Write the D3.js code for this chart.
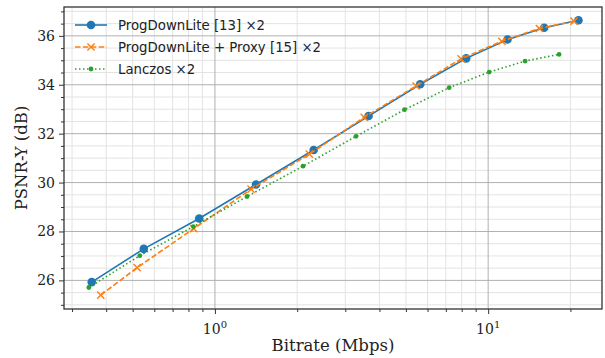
<!DOCTYPE html>
<html>
<head>
<meta charset="utf-8">
<script src="https://cdn.jsdelivr.net/npm/d3@7"></script>
<style>
  body { margin: 0; background: #fff; }
  text { fill: #222; }
</style>
</head>
<body>
<svg id="chart" width="605" height="358"></svg>
<script>
// values
const seriesLabels = ["ProgDownLite [13] \u00d72", "ProgDownLite + Proxy [15] \u00d72", "Lanczos \u00d72"];

const progDownRate = [0.354, 0.549, 0.876, 1.414, 2.298, 3.65, 5.64, 8.31, 11.77, 16.03, 21.4];
const progDownPsnr = [25.93, 27.29, 28.53, 29.92, 31.33, 32.72, 34.02, 35.08, 35.85, 36.33, 36.64];

const proxyRate = [0.382, 0.519, 0.837, 1.356, 2.216, 3.52, 5.45, 7.96, 11.22, 15.40, 20.63];
const proxyPsnr = [25.40, 26.52, 28.12, 29.73, 31.16, 32.67, 33.95, 35.06, 35.78, 36.30, 36.60];

const lanczosRate = [0.3456, 0.531, 0.833, 1.311, 2.101, 3.283, 4.94, 7.20, 10.09, 13.65, 18.18];
const lanczosPsnr = [25.71, 27.01, 28.20, 29.43, 30.67, 31.89, 32.98, 33.88, 34.52, 34.97, 35.24];

const yTicks = [26, 28, 30, 32, 34, 36];
const xTicks = [1, 10];

const margin = { top: 7, right: 3, bottom: 49, left: 64 };
const W = 605, H = 358;
const w = W - margin.left - margin.right;
const h = H - margin.top - margin.bottom;

const svg = d3.select("#chart");
const g = svg.append("g").attr("transform", `translate(${margin.left},${margin.top})`);

const x = d3.scaleLog().domain([0.2803, 26.1]).range([0, w]);
const y = d3.scaleLinear().domain([24.83, 37.18]).range([h, 0]);

// minor positions
const xMinor = [];
[0.1, 1, 10].forEach(d => { for (let k = 2; k <= 9; k++) xMinor.push(d * k); });
const xMinorIn = xMinor.filter(v => v >= x.domain()[0] && v <= x.domain()[1]);
const yMinor = d3.range(25, 37.01, 0.5).filter(v => !yTicks.includes(v));

// grid
const grid = g.append("g");
grid.selectAll(".xmin").data(xMinorIn).join("line")
  .attr("x1", d => x(d)).attr("x2", d => x(d)).attr("y1", 0).attr("y2", h)
  .attr("stroke", "#e3e3e3").attr("stroke-width", 1);
grid.selectAll(".ymin").data(yMinor).join("line")
  .attr("x1", 0).attr("x2", w).attr("y1", d => y(d)).attr("y2", d => y(d))
  .attr("stroke", "#e3e3e3").attr("stroke-width", 1);
grid.selectAll(".xmaj").data(xTicks).join("line")
  .attr("x1", d => x(d)).attr("x2", d => x(d)).attr("y1", 0).attr("y2", h)
  .attr("stroke", "#b0b0b0").attr("stroke-width", 1);
grid.selectAll(".ymaj").data(yTicks).join("line")
  .attr("x1", 0).attr("x2", w).attr("y1", d => y(d)).attr("y2", d => y(d))
  .attr("stroke", "#b0b0b0").attr("stroke-width", 1);

// axes
const xAxis = g.append("g").attr("transform", `translate(0,${h})`)
  .call(d3.axisBottom(x).tickValues(xTicks).tickSize(5).tickPadding(4).tickFormat(""));
const xMinorAxis = g.append("g").attr("transform", `translate(0,${h})`)
  .call(d3.axisBottom(x).tickValues(xMinorIn).tickSize(3).tickFormat(""));
const yAxis = g.append("g")
  .call(d3.axisLeft(y).tickValues(yTicks).tickSize(5).tickPadding(4));
const yMinorAxis = g.append("g")
  .call(d3.axisLeft(y).tickValues(yMinor).tickSize(3).tickFormat(""));

[xAxis, xMinorAxis, yAxis, yMinorAxis].forEach(a => {
  a.select(".domain").remove();
  a.selectAll(".tick line").attr("stroke", "#333").attr("stroke-width", 1);
});
yAxis.selectAll(".tick text")
  .attr("font-family", "DejaVu Serif").attr("font-size", 14).attr("fill", "#222");

// x tick labels as 10^n
const xLab = g.append("g");
xTicks.forEach(v => {
  const t = xLab.append("text")
    .attr("x", x(v)).attr("y", h + 25)
    .attr("text-anchor", "middle")
    .attr("font-family", "DejaVu Serif").attr("font-size", 14);
  t.append("tspan").text("10");
  t.append("tspan").attr("dy", -6).attr("font-size", 10).text(Math.round(Math.log10(v)));
});

// series
const series = [
  { rate: progDownRate, psnr: progDownPsnr, color: "#1f77b4", dash: null, marker: "circle" },
  { rate: proxyRate, psnr: proxyPsnr, color: "#ff7f0e", dash: "5.5,2.4", marker: "x" },
  { rate: lanczosRate, psnr: lanczosPsnr, color: "#2ca02c", dash: "1.5,2.5", marker: "dot" }
];

const line = d3.line().x(d => x(d[0])).y(d => y(d[1]));

function drawMarker(sel, kind, color) {
  if (kind === "circle") {
    sel.append("circle").attr("r", 4.3).attr("fill", color);
  } else if (kind === "dot") {
    sel.append("circle").attr("r", 2.4).attr("fill", color);
  } else {
    sel.append("path").attr("d", "M-3.6,-3.6L3.6,3.6M-3.6,3.6L3.6,-3.6")
      .attr("stroke", color).attr("stroke-width", 1.4).attr("fill", "none");
  }
}

series.forEach(s => {
  const pts = s.rate.map((r, i) => [r, s.psnr[i]]);
  g.append("path").datum(pts)
    .attr("d", line)
    .attr("fill", "none")
    .attr("stroke", s.color)
    .attr("stroke-width", 1.6)
    .attr("stroke-dasharray", s.dash);
  g.append("g").selectAll("g").data(pts).join("g")
    .attr("transform", d => `translate(${x(d[0])},${y(d[1])})`)
    .each(function () { drawMarker(d3.select(this), s.marker, s.color); });
});

// frame
g.append("rect").attr("width", w).attr("height", h)
  .attr("fill", "none").attr("stroke", "#333").attr("stroke-width", 1.3);

// legend (no frame, grid shows through)
const leg = g.append("g").attr("transform", "translate(5,5)");
series.forEach((s, i) => {
  const row = leg.append("g").attr("transform", `translate(0,${13 + i * 22})`);
  row.append("line").attr("x1", 6).attr("x2", 38)
    .attr("stroke", s.color).attr("stroke-width", 1.6).attr("stroke-dasharray", s.dash);
  const m = row.append("g").attr("transform", "translate(22,0)");
  drawMarker(m, s.marker, s.color);
  row.append("text").attr("x", 49).attr("y", 5)
    .attr("font-family", "DejaVu Sans").attr("font-size", 13.3)
    .text(seriesLabels[i]);
});

// axis labels
svg.append("text")
  .attr("x", margin.left + w / 2).attr("y", 351)
  .attr("text-anchor", "middle")
  .attr("font-family", "DejaVu Serif").attr("font-size", 16.5)
  .text("Bitrate (Mbps)");
svg.append("text")
  .attr("transform", `translate(27,${margin.top + h / 2}) rotate(-90)`)
  .attr("text-anchor", "middle")
  .attr("font-family", "DejaVu Serif").attr("font-size", 16.5)
  .text("PSNR-Y (dB)");
</script>
</body>
</html>
